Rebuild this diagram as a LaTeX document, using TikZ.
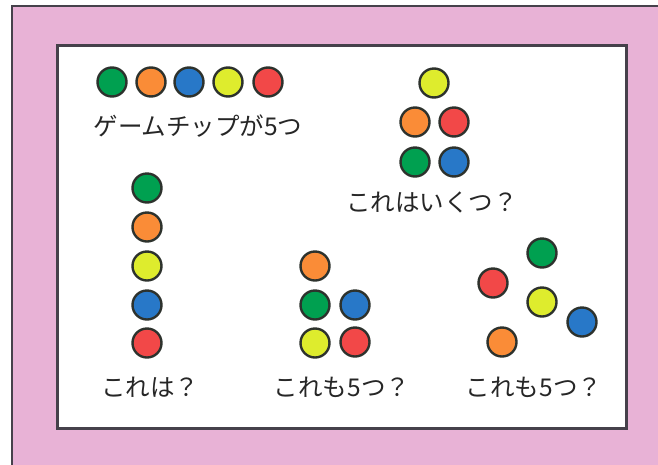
\documentclass[tikz,border=0pt]{standalone}
\usepackage{fontspec}
\newfontfamily\jpfont{Noto Sans CJK JP}
\definecolor{pinkbg}{RGB}{232,178,214}
\definecolor{frameline}{RGB}{70,65,75}
\definecolor{chipline}{RGB}{45,50,45}
\definecolor{cgreen}{RGB}{0,160,80}
\definecolor{corange}{RGB}{250,140,55}
\definecolor{cblue}{RGB}{40,120,200}
\definecolor{cyellow}{RGB}{222,236,45}
\definecolor{cred}{RGB}{242,72,72}
\tikzset{
  chip/.style={circle, draw=chipline, line width=2.4pt, minimum size=29pt, inner sep=0pt},
  label/.style={font=\jpfont\fontsize{24.5}{28}\selectfont, text=black!85, inner sep=0pt}
}
\begin{document}
\begin{tikzpicture}[x=1pt,y=-1pt]
\useasboundingbox (0,0) rectangle (658,464);
\fill[white] (0,0) rectangle (658,464);
\draw[fill=pinkbg, draw=frameline, line width=1.5pt] (12,6) rectangle (690,490);
\draw[fill=white, draw=frameline, line width=3pt] (57,45) rectangle (626,428);
% top row
\node[chip, fill=cgreen]  (a1) at (112,82) {};
\node[chip, fill=corange] (a2) at (151,82) {};
\node[chip, fill=cblue]   (a3) at (189,82) {};
\node[chip, fill=cyellow] (a4) at (228,82) {};
\node[chip, fill=cred]    (a5) at (268,82) {};
\node[label] (t1) at (198,126) {ゲームチップが5つ};
% triangle
\node[chip, fill=cyellow] (b1) at (434,83) {};
\node[chip, fill=corange] (b2) at (415,122) {};
\node[chip, fill=cred]    (b3) at (454,122) {};
\node[chip, fill=cgreen]  (b4) at (415,162) {};
\node[chip, fill=cblue]   (b5) at (454,162) {};
\node[label] (t2) at (432,202) {これはいくつ？};
% column
\node[chip, fill=cgreen]  (c1) at (147,188) {};
\node[chip, fill=corange] (c2) at (147,227) {};
\node[chip, fill=cyellow] (c3) at (147,266) {};
\node[chip, fill=cblue]   (c4) at (147,305) {};
\node[chip, fill=cred]    (c5) at (147,343) {};
\node[label] (t3) at (150,387) {これは？};
% second group
\node[chip, fill=corange] (d1) at (315,266) {};
\node[chip, fill=cgreen]  (d2) at (315,305) {};
\node[chip, fill=cblue]   (d3) at (355,305) {};
\node[chip, fill=cyellow] (d4) at (315,343) {};
\node[chip, fill=cred]    (d5) at (355,342) {};
\node[label] (t4) at (342,387) {これも5つ？};
% scattered group
\node[chip, fill=cgreen]  (e1) at (542,253) {};
\node[chip, fill=cred]    (e2) at (493,283) {};
\node[chip, fill=cyellow] (e3) at (542,302) {};
\node[chip, fill=cblue]   (e4) at (582,322) {};
\node[chip, fill=corange] (e5) at (502,342) {};
\node[label] (t5) at (534,387) {これも5つ？};
\end{tikzpicture}
\end{document}
